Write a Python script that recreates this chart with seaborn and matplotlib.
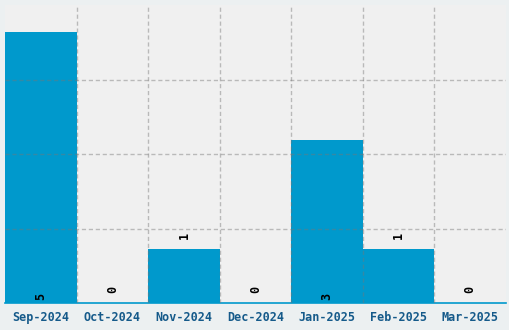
import matplotlib
matplotlib.use("Agg")
import matplotlib.pyplot as plt
import seaborn as sns
import pandas as pd
import numpy as np

months = ["Sep-2024", "Oct-2024", "Nov-2024", "Dec-2024", "Jan-2025", "Feb-2025", "Mar-2025"]
counts = [5, 0, 1, 0, 3, 1, 0]

sns.set_theme(style="white")
plt.rcParams['font.family'] = ['DejaVu Sans Mono', 'DejaVu Sans']

df = pd.DataFrame({"month": months, "count": counts})

fig = plt.figure(figsize=(5.1, 3.3), dpi=100, facecolor="#ECF0F1")
ax = fig.add_axes([5/510, 27/330, 501/510, 298/330])
ax.set_facecolor("#F0F0F0")

sns.barplot(data=df, x="month", y="count", color="#0099CC", width=1.0,
            saturation=1, ax=ax, zorder=1, linewidth=0, edgecolor="none")

ax.set_ylim(0, 5.5)
ax.set_xlim(-0.5, len(months) - 0.5)
ax.set_yticks(np.linspace(0, 5.5, 5)[1:-1])
ax.set_yticklabels([])
ax.set_xticks(np.arange(len(months) - 1) + 0.5, minor=True)
ax.tick_params(axis="y", length=0)
ax.tick_params(axis="x", which="both", length=0, pad=6)
for lbl in ax.get_xticklabels():
    lbl.set_fontweight("bold")
    lbl.set_fontsize(8.5)
    lbl.set_color("#155A8A")

ax.grid(False)
ax.yaxis.grid(True, color="#777777", alpha=0.45, linestyle=(0, (3, 2)), linewidth=1, zorder=2)
ax.xaxis.grid(True, which="minor", color="#777777", alpha=0.45, linestyle=(0, (3, 2)), linewidth=1, zorder=2)
ax.set_axisbelow(False)

for s in ["top", "left", "right"]:
    ax.spines[s].set_visible(False)
ax.spines["bottom"].set_color("#0099CC")
ax.spines["bottom"].set_linewidth(1.2)
ax.set_xlabel("")
ax.set_ylabel("")

for i, v in enumerate(counts):
    if v > 2:
        ax.annotate(str(v), (i, 0), xytext=(0, 2), textcoords="offset points",
                    ha="center", va="bottom", rotation=90, fontsize=8.5,
                    fontweight="bold", color="black", zorder=3)
    else:
        ax.annotate(str(v), (i, v), xytext=(0, 7), textcoords="offset points",
                    ha="center", va="bottom", rotation=90, fontsize=8.5,
                    fontweight="bold", color="black", zorder=3)

fig.savefig("out.png", dpi=100, facecolor=fig.get_facecolor())
